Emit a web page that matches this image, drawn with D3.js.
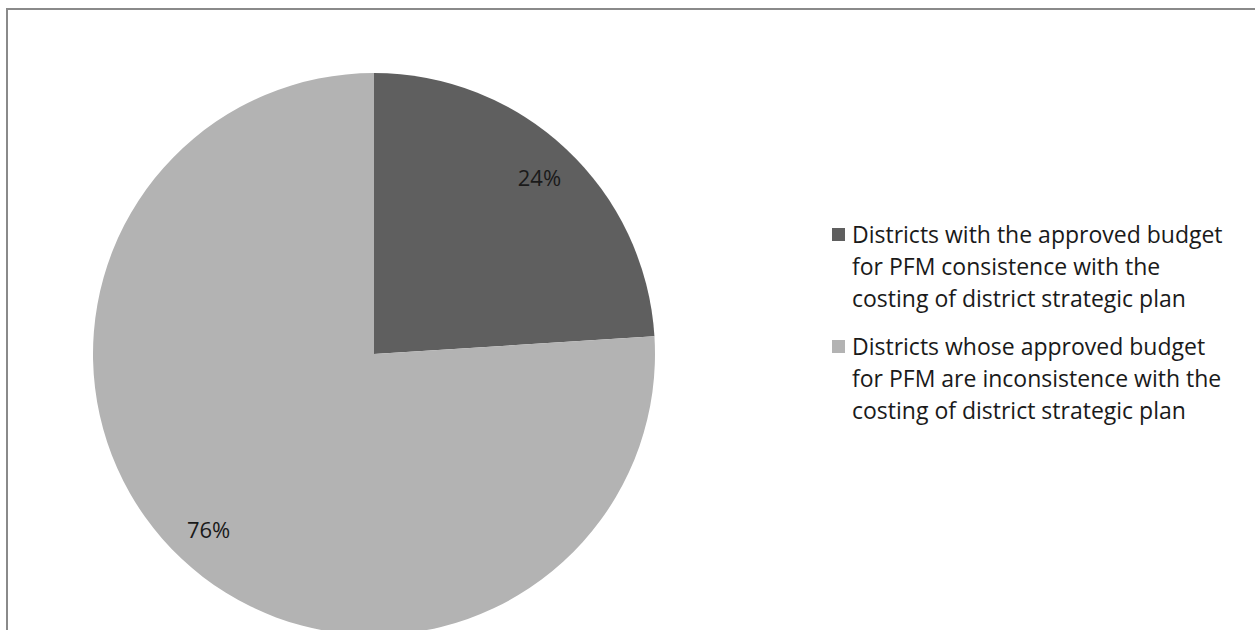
<!DOCTYPE html>
<html>
<head>
<meta charset="utf-8">
<script src="https://cdn.jsdelivr.net/npm/d3@7"></script>
<style>
  body { margin: 0; background: #fff; }
  text { font-family: "Open Sans", "Liberation Sans", sans-serif; }
</style>
</head>
<body>
<div class="pie-chart"></div>
<script>
const categories = [
    "Districts with the approved budget for PFM consistence with the costing of district strategic plan",
    "Districts whose approved budget for PFM are inconsistence with the costing of district strategic plan"
];
const values = [24, 76];
const labels = ["24%", "76%"];
const legendLines = [
    ["Districts with the approved budget", "for PFM consistence with the", "costing of district strategic plan"],
    ["Districts whose approved budget", "for PFM are inconsistence with the", "costing of district strategic plan"]
];
const colors = ["#5f5f5f", "#b3b3b3"];

const width = 1255, height = 630;
const cx = 374, cy = 354, radius = 281;

const svg = d3.select('.pie-chart')
    .append('svg')
    .attr("width", width)
    .attr("height", height);

// frame
svg.append("rect")
    .attr("x", 7).attr("y", 9)
    .attr("width", 1260).attr("height", 640)
    .attr("fill", "none")
    .attr("stroke", "#8a8a8a")
    .attr("stroke-width", 2);

const data = categories.map((c, i) => ({ name: c, value: values[i], label: labels[i] }));

const pie = d3.pie().sort(null).value(d => d.value);
const arc = d3.arc().innerRadius(0).outerRadius(radius);
const labelArc = d3.arc().innerRadius(radius * 0.86).outerRadius(radius * 0.86);

const g = svg.append("g")
    .attr("transform", "translate(" + cx + "," + cy + ")");

const arcs = pie(data);

g.selectAll(".slice")
    .data(arcs)
    .enter()
    .append("path")
    .attr("class", "slice")
    .attr("d", arc)
    .style("fill", (d, i) => colors[i]);

// percentage labels
g.selectAll(".lbl")
    .data(arcs)
    .enter()
    .append("text")
    .attr("class", "lbl")
    .attr("transform", d => "translate(" + labelArc.centroid(d) + ")")
    .attr("text-anchor", "middle")
    .attr("dy", "0.35em")
    .style("font-size", "22px")
    .style("fill", "#1a1a1a")
    .text(d => d.data.label);

// legend
const legend = svg.append("g").attr("transform", "translate(832,227)");
const item = legend.selectAll(".item")
    .data(legendLines)
    .enter()
    .append("g")
    .attr("class", "item")
    .attr("transform", (d, i) => "translate(0," + (i * 112) + ")");

item.append("rect")
    .attr("x", 0).attr("y", 1)
    .attr("width", 13).attr("height", 13)
    .style("fill", (d, i) => colors[i]);

item.append("text")
    .attr("x", 20)
    .attr("y", 16)
    .style("font-size", "23px")
    .style("fill", "#1a1a1a")
    .selectAll("tspan")
    .data(d => d)
    .enter()
    .append("tspan")
    .attr("x", 20)
    .attr("dy", (d, i) => i === 0 ? 0 : 32)
    .text(d => d);
</script>
</body>
</html>
